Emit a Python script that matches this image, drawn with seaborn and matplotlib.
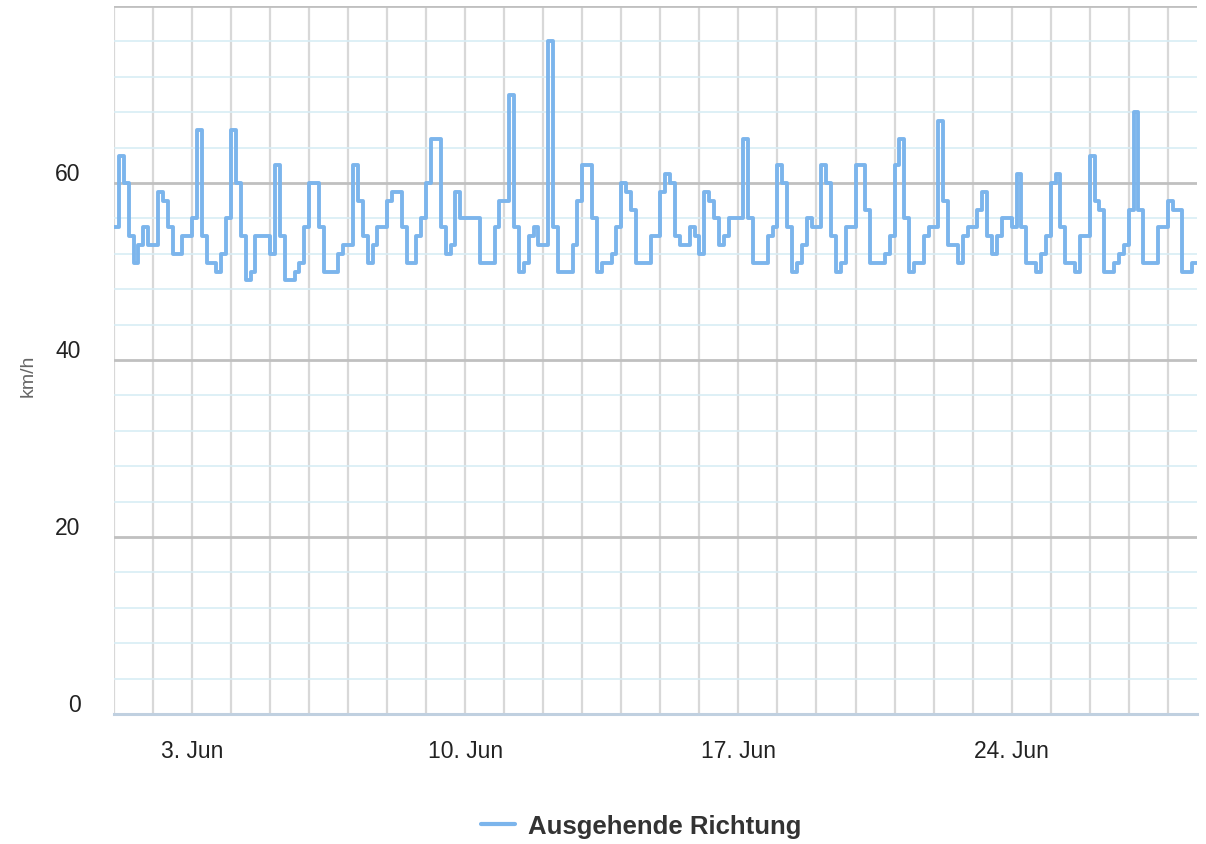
import numpy as np
import pandas as pd
import matplotlib
matplotlib.use("Agg")
import matplotlib.pyplot as plt
import matplotlib.dates as mdates
from matplotlib.transforms import ScaledTranslation
from matplotlib.lines import Line2D
import seaborn as sns

# ---------------- data ----------------
series_name = "Ausgehende Richtung"
y_label = "km/h"
start_time = "2019-06-01 00:00"
step_hours = 3

week1 = [55, 63, 60, 54, 51, 53, 55, 53,
         53, 59, 58, 55, 52, 52, 54, 54,
         56, 66, 54, 51, 51, 50, 52, 56,
         66, 60, 54, 49, 50, 54, 54, 54,
         52, 62, 54, 49, 49, 50, 51, 55,
         60, 60, 55, 50, 50, 50, 52, 53,
         53, 62, 58, 54, 51, 53, 55, 55]
week2 = [58, 59, 59, 55, 51, 51, 54, 56,
         60, 65, 65, 55, 52, 53, 59, 56,
         56, 56, 56, 51, 51, 51, 55, 58,
         58, 70, 55, 50, 51, 54, 55, 53,
         53, 76, 55, 50, 50, 50, 53, 58,
         62, 62, 56, 50, 51, 51, 52, 55,
         60, 59, 57, 51, 51, 51, 54, 54]
week3 = [59, 61, 60, 54, 53, 53, 55, 54,
         52, 59, 58, 56, 53, 54, 56, 56,
         56, 65, 56, 51, 51, 51, 54, 55,
         62, 60, 55, 50, 51, 53, 56, 55,
         55, 62, 60, 54, 50, 51, 55, 55,
         62, 62, 57, 51, 51, 51, 52, 54,
         62, 65, 56, 50, 51, 51, 54, 55]
week4 = [55, 67, 58, 53, 53, 51, 54, 55,
         55, 57, 59, 54, 52, 54, 56, 56,
         55, 61, 55, 51, 51, 50, 52, 54,
         60, 61, 55, 51, 51, 50, 54, 54,
         63, 58, 57, 50, 50, 51, 52, 53,
         57, 68, 57, 51, 51, 51, 55, 55,
         58, 57, 57, 50, 50, 51, 51]

y_ticks = [0, 20, 40, 60, 80]
y_tick_labels = ["0", "20", "40", "60", ""]
x_label_days = [3, 10, 17, 24]
x_end = "2019-06-28 18:00"

values = week1 + week2 + week3 + week4
times = pd.date_range(start_time, periods=len(values), freq=f"{step_hours}h")
df = pd.DataFrame({"Zeit": times, "Geschwindigkeit": values})

# ---------------- style ----------------
sns.set_theme(style="white")
plt.rcParams["font.family"] = ["Liberation Sans", "DejaVu Sans"]

line_color = "#7cb5ec"
major_grid = "#c0c0c0"
minor_grid = "#d8edf5"
vgrid = "#d8d8d8"
axis_color = "#c0d0e0"
label_color = "#222222"

fig = plt.figure(figsize=(12.06, 8.45), dpi=100)
ax = fig.add_axes([114 / 1206, 1 - 715 / 845, (1197 - 114) / 1206, (715 - 7) / 845])

sns.lineplot(data=df, x="Zeit", y="Geschwindigkeit", ax=ax, color=line_color,
             linewidth=2.8, drawstyle="steps-post", zorder=5, legend=False)

ax.set_ylim(0, 80)
ax.set_xlim(pd.Timestamp(start_time), pd.Timestamp(x_end))

ax.set_yticks(y_ticks)
ax.set_yticklabels(y_tick_labels)
ax.set_yticks(np.arange(0, 81, 4), minor=True)

ax.xaxis.set_major_locator(mdates.DayLocator(bymonthday=x_label_days))
ax.xaxis.set_major_formatter(mdates.DateFormatter("%-d. %b"))
ax.xaxis.set_minor_locator(mdates.DayLocator())

# grids
ax.grid(False)
ax.yaxis.grid(True, which="minor", color=minor_grid, linewidth=1.2, zorder=0)
ax.yaxis.grid(True, which="major", color=major_grid, linewidth=2.0, zorder=1)
ax.xaxis.grid(True, which="minor", color=vgrid, linewidth=1.6, zorder=1)
ax.xaxis.grid(True, which="major", color=vgrid, linewidth=1.6, zorder=1)
ax.set_axisbelow(True)

for s in ["top", "right", "left"]:
    ax.spines[s].set_visible(False)
ax.spines["bottom"].set_color(axis_color)
ax.spines["bottom"].set_linewidth(2.2)
ax.spines["bottom"].set_zorder(6)

ax.tick_params(axis="x", which="major", length=10, width=1.2, color=axis_color,
               labelsize=16.5, labelcolor=label_color, pad=8, direction="out")
ax.tick_params(axis="x", which="minor", length=0)
ax.tick_params(axis="y", which="both", length=0, labelsize=16.5,
               labelcolor=label_color, pad=24)

# y labels sit slightly above their grid lines
offset = ScaledTranslation(0, 12 / 100, fig.dpi_scale_trans)
for t in ax.yaxis.get_major_ticks():
    t.label1.set_transform(t.label1.get_transform() + offset)

ax.set_xlabel("")
ax.set_ylabel(y_label, fontsize=14, color="#666666")
ax.yaxis.set_label_coords(-77 / (1197 - 114), (715 - 376) / (715 - 7))

handle = Line2D([0], [0], color=line_color, linewidth=3)
fig.legend([handle], [series_name], loc="center", bbox_to_anchor=(641 / 1206, 1 - 827 / 845),
           frameon=False, handlelength=1.35, handletextpad=0.5,
           prop={"weight": "bold", "size": 18.5}, labelcolor="#333333")

fig.savefig("out.png", dpi=100)
